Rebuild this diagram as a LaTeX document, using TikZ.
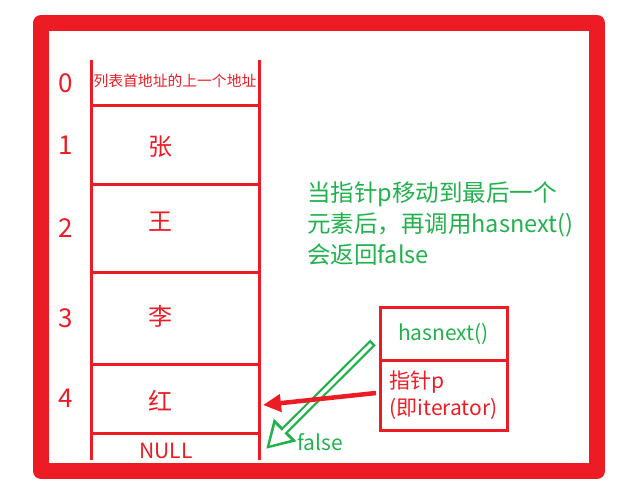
\documentclass[tikz,border=0pt]{standalone}
\usepackage{fontspec}
\setmainfont{Noto Sans CJK SC}
\usepackage{tikz}
\usetikzlibrary{positioning, arrows.meta, calc}
\usepackage{xcolor}
\definecolor{pred}{HTML}{ED1C24}
\definecolor{pgreen}{HTML}{22B14C}

\begin{document}
\begin{tikzpicture}[x=1pt, y=-1pt,
	cell/.style={minimum width=168pt, inner sep=0pt, outer sep=0pt},
	tab/.style={pred, line width=3pt},
	idx/.style={text=pred, inner sep=0pt, font=\fontsize{26}{26}\selectfont},
	elem/.style={text=pred, inner sep=0pt, font=\fontsize{24}{24}\selectfont},
	ptrbox/.style={draw=pred, line width=3pt, minimum width=127pt, inner sep=0pt, outer sep=0pt}]
	\useasboundingbox (0,0) rectangle (638,495);
	\draw[pred, line width=16pt, line join=round] (41,23) rectangle (597,471);
	\node[cell, minimum height=46pt] (c0) at (175,83) {};
	\node[cell, minimum height=78pt, below=0pt of c0] (c1) {};
	\node[cell, minimum height=88pt, below=0pt of c1] (c2) {};
	\node[cell, minimum height=92pt, below=0pt of c2] (c3) {};
	\node[cell, minimum height=69pt, below=0pt of c3] (c4) {};
	\node[cell, minimum height=27pt, below=0pt of c4] (c5) {};
	\draw[tab] (c0.north west) -- (c5.south west);
	\draw[tab] (c0.north east) -- (c5.south east);
	\foreach \i in {1,...,5}
		\draw[tab] (c\i.north west) -- (c\i.north east);
	\foreach \i in {0,...,4}
		\node[idx, left=18pt of c\i] (i\i) {\i};
	\node[text=pred, inner sep=0pt, font=\fontsize{14.8}{15}\selectfont] (head) at ([yshift=2pt]c0.center) {列表首地址的上一个地址};
	\foreach \i/\t/\dy in {1/张/-2, 2/王/6, 3/李/2, 4/红/-2.5}
		\node[elem] (e\i) at ([xshift=-15pt, yshift=\dy pt]c\i.center) {\t};
	\node[text=pred, inner sep=0pt, font=\fontsize{21}{21}\selectfont] (null) at ([xshift=-9pt, yshift=-4.5pt]c5.center) {NULL};
	\node[ptrbox, minimum height=53pt, text=pgreen, font=\fontsize{21}{21}\selectfont] (hn) at (443.5,333.5) {hasnext()};
	\node[ptrbox, minimum height=70pt, below=0pt of hn, text=pred, align=left, font=\fontsize{21}{27}\selectfont] (ptr) {指针p\\(即iterator)};
	\node[text=pgreen, inner sep=0pt, anchor=west, align=left, font=\fontsize{23.5}{31}\selectfont] (note) at (307,224) {当指针p移动到最后一个\\元素后，再调用hasnext()\\会返回false};
	\node[text=pgreen, inner sep=0pt, font=\fontsize{21}{21}\selectfont] (fl) at (320,442) {false};
	\coordinate (gtip) at (266,449);
	\draw[pgreen, line width=8pt, -{Triangle[length=27pt, width=30pt]}] ([xshift=-7pt, yshift=-9pt]hn.west) -- (gtip);
	\draw[white, line width=3.5pt, shorten <=2.5pt, shorten >=5pt, -{Triangle[length=19pt, width=21pt]}] ([xshift=-7pt, yshift=-9pt]hn.west) -- (gtip);
	\draw[pred, line width=4.5pt, -{Triangle[length=18pt, width=17pt]}] ([xshift=-4pt, yshift=2pt]ptr.west) -- ([xshift=4pt, yshift=-6.5pt]c4.east);
\end{tikzpicture}
\end{document}
